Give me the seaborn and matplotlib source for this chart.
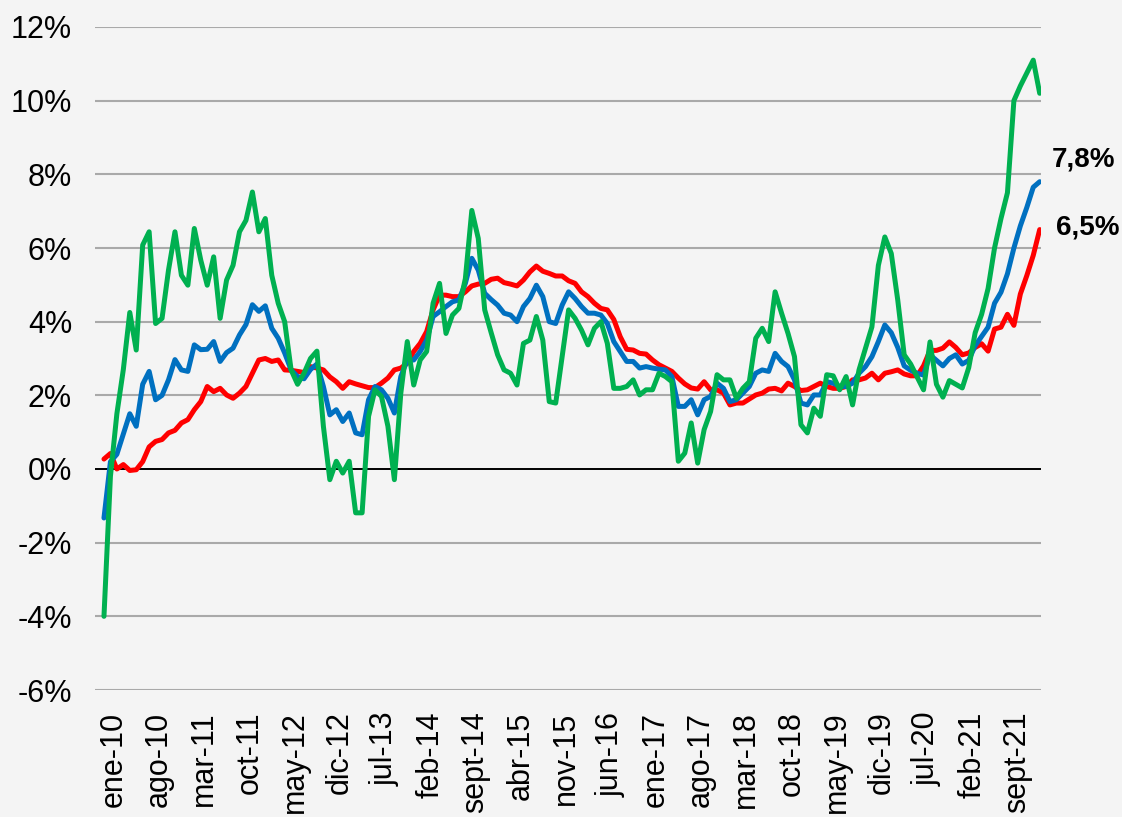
import numpy as np
import pandas as pd
import matplotlib
matplotlib.use("Agg")
import matplotlib.pyplot as plt
import matplotlib.transforms as mtransforms
from matplotlib.ticker import FixedLocator, FuncFormatter
import seaborn as sns

# ---------------- data (annual % change, monthly, ene-2010 .. feb-2022) ----------------
meses = pd.date_range("2010-01-01", "2022-02-01", freq="MS")

ipc_total = [
    -1.33, 0.2, 0.4, 0.95, 1.5, 1.16, 2.3, 2.65, 1.88, 2.0, 2.42, 2.97,
    2.69, 2.65, 3.37, 3.24, 3.25, 3.46, 2.92, 3.16, 3.28, 3.64, 3.92, 4.46,
    4.28, 4.43, 3.82, 3.55, 3.15, 2.69, 2.51, 2.45, 2.7, 2.85, 2.24, 1.47,
    1.61, 1.29, 1.52, 0.98, 0.93, 1.88, 2.24, 2.15, 1.92, 1.52, 2.51, 2.96,
    2.96, 3.19, 3.5, 4.14, 4.27, 4.41, 4.54, 4.59, 5.04, 5.72, 5.4, 4.77,
    4.6, 4.45, 4.23, 4.18, 4.0, 4.41, 4.63, 4.99, 4.68, 4.0, 3.95, 4.45,
    4.81, 4.63, 4.41, 4.23, 4.23, 4.18, 3.95, 3.46, 3.19, 2.92, 2.92, 2.74,
    2.78, 2.74, 2.71, 2.69, 2.51, 1.7, 1.7, 1.88, 1.47, 1.88, 1.97, 2.33,
    2.19, 1.83, 1.88, 2.06, 2.24, 2.6, 2.69, 2.65, 3.14, 2.92, 2.78, 2.42,
    1.79, 1.74, 2.01, 2.01, 2.37, 2.33, 2.24, 2.24, 2.33, 2.6, 2.78, 3.05,
    3.46, 3.91, 3.7, 3.3, 2.8, 2.68, 2.6, 2.55, 3.1, 2.95, 2.8, 3.0,
    3.1, 2.85, 2.95, 3.35, 3.6, 3.85, 4.5, 4.8, 5.3, 6.0, 6.6, 7.1,
    7.65, 7.8,
]

ipc_sin_volatiles = [
    0.27, 0.42, 0.0, 0.12, -0.04, -0.02, 0.2, 0.6, 0.75, 0.8, 0.98, 1.05,
    1.25, 1.34, 1.61, 1.83, 2.24, 2.1, 2.19, 2.01, 1.92, 2.06, 2.24, 2.6,
    2.96, 3.0, 2.92, 2.96, 2.69, 2.68, 2.65, 2.62, 2.78, 2.74, 2.69, 2.5,
    2.37, 2.19, 2.37, 2.31, 2.26, 2.21, 2.21, 2.33, 2.47, 2.69, 2.74, 2.87,
    3.19, 3.41, 3.73, 4.32, 4.72, 4.72, 4.68, 4.68, 4.81, 4.97, 5.02, 5.04,
    5.15, 5.18, 5.06, 5.02, 4.97, 5.13, 5.35, 5.51, 5.37, 5.31, 5.24, 5.24,
    5.11, 5.04, 4.81, 4.68, 4.5, 4.36, 4.32, 4.06, 3.59, 3.25, 3.23, 3.14,
    3.12, 2.96, 2.83, 2.74, 2.65, 2.47, 2.31, 2.2, 2.17, 2.37, 2.15, 2.15,
    2.06, 1.74, 1.79, 1.79, 1.9, 2.01, 2.06, 2.17, 2.19, 2.12, 2.33, 2.24,
    2.13, 2.15, 2.24, 2.33, 2.24, 2.19, 2.19, 2.24, 2.42, 2.42, 2.47, 2.6,
    2.42, 2.6, 2.64, 2.69, 2.58, 2.53, 2.53, 2.8, 3.22, 3.22, 3.28, 3.45,
    3.3, 3.1, 3.15, 3.3, 3.4, 3.2, 3.8, 3.85, 4.2, 3.9, 4.75, 5.25,
    5.8, 6.5,
]

ipc_volatiles = [
    -4.0, -0.2, 1.5, 2.7, 4.25, 3.23, 6.08, 6.44, 3.95, 4.09, 5.4, 6.44,
    5.26, 4.99, 6.53, 5.67, 4.99, 5.76, 4.09, 5.13, 5.53, 6.44, 6.75, 7.52,
    6.44, 6.8, 5.26, 4.5, 4.0, 2.69, 2.3, 2.6, 3.0, 3.2, 1.16, -0.29,
    0.21, -0.11, 0.21, -1.19, -1.19, 1.43, 2.15, 1.97, 1.16, -0.29, 2.06, 3.46,
    2.28, 2.96, 3.19, 4.5, 5.04, 3.68, 4.18, 4.36, 5.17, 7.02, 6.26, 4.32,
    3.7, 3.1, 2.69, 2.6, 2.28, 3.41, 3.5, 4.14, 3.5, 1.83, 1.79, 3.05,
    4.32, 4.09, 3.77, 3.37, 3.82, 4.0, 3.41, 2.19, 2.19, 2.24, 2.42, 2.01,
    2.15, 2.15, 2.6, 2.51, 2.37, 0.21, 0.43, 1.25, 0.16, 1.07, 1.56, 2.56,
    2.42, 2.42, 1.92, 2.19, 2.37, 3.55, 3.82, 3.46, 4.81, 4.23, 3.68, 3.05,
    1.2, 0.98, 1.65, 1.43, 2.56, 2.53, 2.15, 2.51, 1.74, 2.69, 3.28, 3.86,
    5.53, 6.3, 5.85, 4.59, 3.1, 2.85, 2.5, 2.15, 3.45, 2.3, 1.95, 2.4,
    2.3, 2.2, 2.75, 3.7, 4.2, 4.9, 6.0, 6.8, 7.5, 10.0, 10.4, 10.75,
    11.1, 10.2,
]

etiquetas_x = [
    "ene-10", "ago-10", "mar-11", "oct-11", "may-12", "dic-12", "jul-13",
    "feb-14", "sept-14", "abr-15", "nov-15", "jun-16", "ene-17", "ago-17",
    "mar-18", "oct-18", "may-19", "dic-19", "jul-20", "feb-21", "sept-21",
]
paso_etiquetas = 7
y_ticks = [-6, -4, -2, 0, 2, 4, 6, 8, 10, 12]

series = {
    "ipc_sin_volatiles": ipc_sin_volatiles,
    "ipc_total": ipc_total,
    "ipc_volatiles": ipc_volatiles,
}
colores = {
    "ipc_sin_volatiles": "#ff0000",
    "ipc_total": "#0070c0",
    "ipc_volatiles": "#00b050",
}

df = pd.concat(
    [pd.DataFrame({"idx": np.arange(len(meses)), "mes": meses, "serie": k, "valor": v})
     for k, v in series.items()],
    ignore_index=True,
)

# ---------------- style ----------------
sns.set_style("white")
plt.rcParams["font.family"] = ["Liberation Sans", "DejaVu Sans"]
plt.rcParams["lines.solid_joinstyle"] = "round"
plt.rcParams["lines.solid_capstyle"] = "round"

BG = "#f4f4f4"
fig = plt.figure(figsize=(11.22, 8.17), dpi=100, facecolor=BG)
W, H = 1122, 817
ax = fig.add_axes([95 / W, 1 - 690 / H, (1041 - 95) / W, (690 - 27) / H])
ax.set_facecolor("none")

sns.lineplot(
    data=df, x="idx", y="valor", hue="serie",
    hue_order=list(series.keys()), palette=colores,
    linewidth=3.6, legend=False, ax=ax, zorder=3,
)

ax.set_xlim(-1.39, len(meses) - 0.8)
ax.set_ylim(y_ticks[0], y_ticks[-1])

# grid
for v in y_ticks:
    if v == 0:
        ax.axhline(v, color="black", lw=1.4, zorder=2)
    else:
        ax.axhline(v, color="#a9a9a9", lw=1.5, zorder=1)

for s in ax.spines.values():
    s.set_visible(False)

ax.yaxis.set_major_locator(FixedLocator(y_ticks))
ax.yaxis.set_major_formatter(FuncFormatter(lambda v, p: f"{int(round(v))}%"))
ax.tick_params(axis="y", length=0, pad=16.5, labelsize=22, labelcolor="black")

pos = list(range(0, paso_etiquetas * len(etiquetas_x), paso_etiquetas))
ax.set_xticks(pos)
ax.set_xticklabels(etiquetas_x, rotation=90, ha="left", va="top")
ax.tick_params(axis="x", length=0, pad=15.5, labelsize=22, labelcolor="black")
off = mtransforms.ScaledTranslation(-5 / 100, 0, fig.dpi_scale_trans)
for lab in ax.get_xticklabels():
    lab.set_transform(lab.get_transform() + off)

ax.set_xlabel("")
ax.set_ylabel("")

# end labels
last = len(meses) - 1
ax.annotate(f"{ipc_total[-1]:.1f}%".replace(".", ","), xy=(last, ipc_total[-1]),
            xytext=(12, 22), textcoords="offset pixels", ha="left", va="center",
            fontsize=20, fontweight="bold", color="black")
ax.annotate(f"{ipc_sin_volatiles[-1]:.1f}%".replace(".", ","), xy=(last, ipc_sin_volatiles[-1]),
            xytext=(16, 2), textcoords="offset pixels", ha="left", va="center",
            fontsize=20, fontweight="bold", color="black")

fig.savefig("out.png", dpi=100, facecolor=BG)
